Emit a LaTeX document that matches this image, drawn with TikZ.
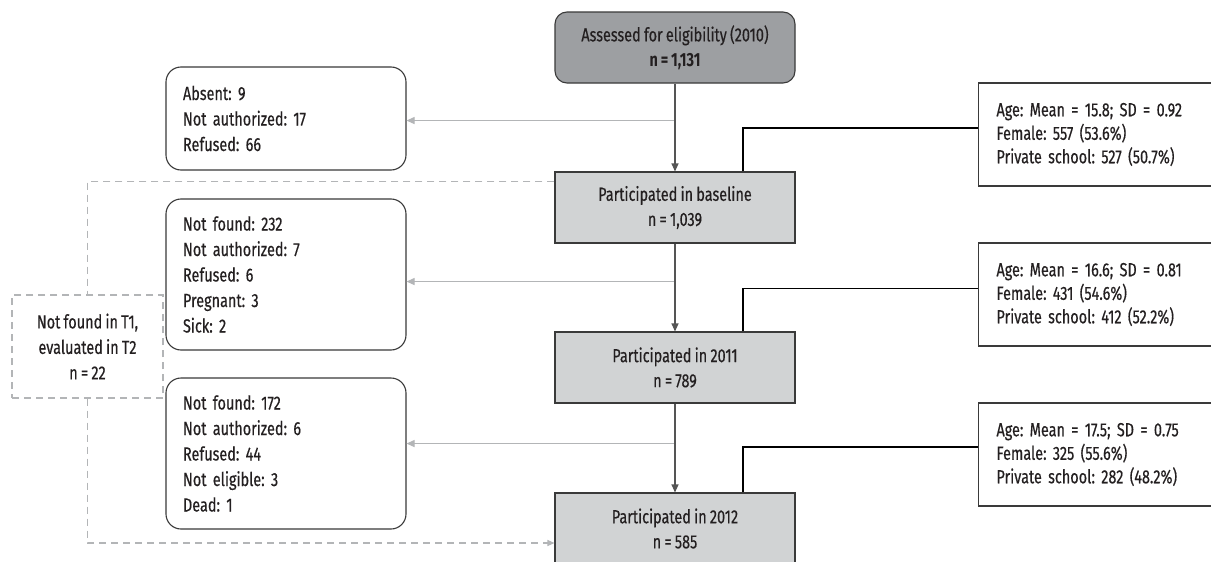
\documentclass[tikz,border=0pt]{standalone}
\usepackage{fontspec}
\setmainfont{Fira Sans}[FakeStretch=0.76, WordSpace=0.85, UprightFeatures={FakeBold=0.4}]
\usetikzlibrary{arrows.meta,calc}
\definecolor{txt}{HTML}{231F20}
\definecolor{edge}{HTML}{3A3A3A}
\definecolor{darkfill}{HTML}{9D9FA2}
\definecolor{lightfill}{HTML}{D1D3D4}
\definecolor{lgray}{HTML}{B3B5B7}
\definecolor{dgray}{HTML}{555555}
\frenchspacing
\tikzset{
  every node/.style={text=txt},
  topbox/.style={draw=edge, line width=1.1pt, fill=darkfill, rounded corners=12pt,
    minimum width=240pt, minimum height=71pt, align=center, inner sep=0pt,
    font={\fontsize{19}{25}\selectfont}},
  mainbox/.style={draw=edge, line width=1.1pt, fill=lightfill,
    minimum width=240pt, minimum height=71pt, align=center, inner sep=0pt,
    font={\fontsize{19}{25}\selectfont}},
  lostbox/.style={draw=edge, line width=1.1pt, fill=white, rounded corners=15pt,
    text width=206pt, inner xsep=17pt, inner ysep=0pt, align=left,
    font={\fontsize{19}{25.5}\selectfont}},
  infobox/.style={draw=edge, line width=1.1pt, fill=white,
    text width=200pt, inner xsep=18pt, inner ysep=0pt, align=left,
    minimum height=103pt, font={\fontsize{19}{23.5}\selectfont}},
  dashbox/.style={draw=lgray, line width=1.1pt, dash pattern=on 7pt off 5pt,
    minimum width=151pt, minimum height=103pt, align=center, inner sep=0pt,
    font={\fontsize{19}{25.5}\selectfont}},
  darrow/.style={draw=dgray, line width=1.1pt, -{Triangle[length=8pt,width=7pt]}},
  garrow/.style={draw=lgray, line width=1.1pt, -{Triangle[length=8pt,width=7pt]}},
  dashline/.style={draw=lgray, line width=1.1pt, dash pattern=on 7pt off 5pt},
  blink/.style={draw=black, line width=1.1pt},
}
\begin{document}
\begin{tikzpicture}[x=1pt,y=-1pt]
\useasboundingbox[fill=white] (0,0) rectangle (1211,562);
% main column
\node[topbox] (top) at (675,47.5) {Assessed for eligibility (2010)\\\textbf{n = 1,131}};
\node[mainbox] (base) at (675,207.5) {Participated in baseline\\n = 1,039};
\node[mainbox] (p11) at (675,367.5) {Participated in 2011\\n = 789};
\node[mainbox] (p12) at (675,528.5) {Participated in 2012\\n = 585};
% lost boxes
\node[lostbox, minimum height=103pt] (l1) at (286,118.5) {Absent: 9\\Not authorized: 17\\Refused: 66};
\node[lostbox, minimum height=151pt] (l2) at (286,274.5) {Not found: 232\\Not authorized: 7\\Refused: 6\\Pregnant: 3\\Sick: 2};
\node[lostbox, minimum height=151pt] (l3) at (286,453.5) {Not found: 172\\Not authorized: 6\\Refused: 44\\Not eligible: 3\\Dead: 1};
% dashed box
\node[dashbox] (t1) at (87.5,346.5) {Not found in T1,\\evaluated in T2\\n = 22};
% info boxes
\node[infobox, minimum width=235pt] (r1) at (1096.5,134.5) {Age: Mean = 15.8; SD = 0.92\\Female: 557 (53.6\%)\\Private school: 527 (50.7\%)};
\node[infobox, minimum width=235pt] (r2) at (1096.5,294.5) {Age: Mean = 16.6; SD = 0.81\\Female: 431 (54.6\%)\\Private school: 412 (52.2\%)};
\node[infobox, minimum width=235pt] (r3) at (1096.5,454.5) {Age: Mean = 17.5; SD = 0.75\\Female: 325 (55.6\%)\\Private school: 282 (48.2\%)};
% branch points on the main line
\coordinate (c1) at ($(top.south)+(0,37)$);
\coordinate (c2) at ($(base.south)+(0,38)$);
\coordinate (c3) at ($(p11.south)+(0,40)$);
% grey exclusion arrows
\draw[garrow] (c1) -- (c1 -| l1.east);
\draw[garrow] (c2) -- (c2 -| l2.east);
\draw[garrow] (c3) -- (c3 -| l3.east);
% dashed path
\draw[dashline] ($(base.north west)+(0,10)$) -| (t1.north);
\draw[dashline, -{Triangle[length=7pt,width=6pt]}] (t1.south) |- ($(p12.west)+(0,14.5)$);
% main arrows
\draw[darrow] (top) -- (base);
\draw[darrow] (base) -- (p11);
\draw[darrow] (p11) -- (p12);
% links to info boxes
\draw[blink] ($(base.north)+(68,0)$) |- ($(r1.west)+(0,-6.5)$);
\draw[blink] ($(p11.north)+(68,0)$) |- ($(r2.west)+(0,-6)$);
\draw[blink] ($(p12.north)+(68,0)$) |- ($(r3.west)+(0,-7.5)$);
\end{tikzpicture}
\end{document}
